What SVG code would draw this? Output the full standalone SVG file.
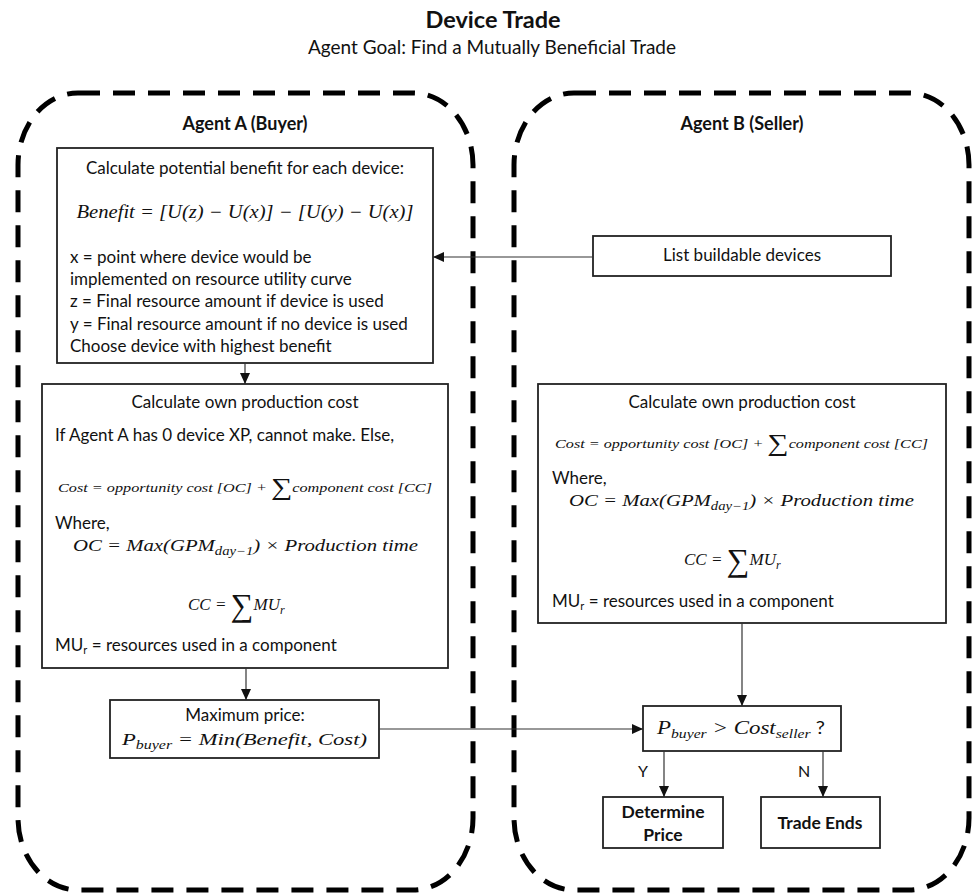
<svg xmlns="http://www.w3.org/2000/svg" width="972" height="896" viewBox="0 0 972 896">
<style>
.cont{fill:none;stroke:#000;stroke-width:5;stroke-dasharray:22 13}
.box{fill:#fff;stroke:#222;stroke-width:1.8}
.t{font-family:Lato,"Liberation Sans",sans-serif;font-size:17px;fill:#111}
.b{font-weight:bold}
.c{text-anchor:middle}
.m{font-family:"Liberation Serif","DejaVu Serif",serif;font-style:italic;fill:#111}
.conn line{stroke:#333;stroke-width:1.2;marker-end:url(#ah)}
</style>
<defs>
<marker id="ah" markerUnits="userSpaceOnUse" markerWidth="11" markerHeight="10" refX="11" refY="5" orient="auto">
<path d="M0,0 L11,5 L0,10 z" fill="#111"/>
</marker>
</defs>
<rect width="972" height="896" fill="#fff"/>
<g id="title">
<text class="t b c" x="493" y="28" style="font-size:23.5px">Device Trade</text>
<text class="t c" x="492" y="54" style="font-size:19px">Agent Goal: Find a Mutually Beneficial Trade</text>
</g>
<g id="agentA">
<rect class="cont" x="18" y="93" width="455" height="797" rx="60" ry="72"/>
<text class="t b c" x="245" y="130" style="font-size:18px">Agent A (Buyer)</text>
</g>
<g id="agentB">
<rect class="cont" x="514" y="93" width="455" height="797" rx="60" ry="72"/>
<text class="t b c" x="742" y="130" style="font-size:18px">Agent B (Seller)</text>
</g>
<g id="benefit">
<rect class="box" x="57" y="148" width="376" height="215"/>
<text class="t c" x="245" y="174">Calculate potential benefit for each device:</text>
<text class="m c" x="245" y="218" style="font-size:18px" textLength="337" lengthAdjust="spacingAndGlyphs">Benefit = [U(z) − U(x)] − [U(y) − U(x)]</text>
<text class="t" x="70" y="263">x = point where device would be</text>
<text class="t" x="70" y="285">implemented on resource utility curve</text>
<text class="t" x="70" y="307">z = Final resource amount if device is used</text>
<text class="t" x="70" y="330">y = Final resource amount if no device is used</text>
<text class="t" x="70" y="352">Choose device with highest benefit</text>
</g>
<g id="costA">
<rect class="box" x="42" y="384" width="406" height="284"/>
<text class="t c" x="245" y="408">Calculate own production cost</text>
<text class="t" x="55" y="441">If Agent A has 0 device XP, cannot make. Else,</text>
<text class="m" x="58" y="492" style="font-size:13px" textLength="374" lengthAdjust="spacingAndGlyphs">Cost = opportunity cost [OC] + <tspan style="font-size:24px;font-style:normal" dy="3">∑</tspan><tspan dy="-3">component cost [CC]</tspan></text>
<text class="t" x="55" y="529">Where,</text>
<text class="m" x="73" y="551" style="font-size:17px" textLength="345" lengthAdjust="spacingAndGlyphs">OC = Max(GPM<tspan style="font-size:12px" dy="4">day−1</tspan><tspan dy="-4">) × Production time</tspan></text>
<text class="m" x="188" y="610" style="font-size:17px">CC = <tspan style="font-size:32px;font-style:normal" dy="6">∑</tspan><tspan dy="-6">MU</tspan><tspan style="font-size:12px" dy="4">r</tspan></text>
<text class="t" x="55" y="651">MU<tspan style="font-size:11px" dy="3">r</tspan><tspan dy="-3"> = resources used in a component</tspan></text>
</g>
<g id="maxprice">
<rect class="box" x="110" y="700" width="269" height="58"/>
<text class="t c" x="245" y="721">Maximum price:</text>
<text class="m" x="122" y="745" style="font-size:17px" textLength="245" lengthAdjust="spacingAndGlyphs">P<tspan style="font-size:12px" dy="4">buyer</tspan><tspan dy="-4"> = Min(Benefit, Cost)</tspan></text>
</g>
<g id="list">
<rect class="box" x="593" y="236" width="298" height="40"/>
<text class="t c" x="742" y="261">List buildable devices</text>
</g>
<g id="costB">
<rect class="box" x="538" y="384" width="408" height="239"/>
<text class="t c" x="742" y="408">Calculate own production cost</text>
<text class="m" x="555" y="448" style="font-size:13px" textLength="373" lengthAdjust="spacingAndGlyphs">Cost = opportunity cost [OC] + <tspan style="font-size:24px;font-style:normal" dy="3">∑</tspan><tspan dy="-3">component cost [CC]</tspan></text>
<text class="t" x="552" y="484">Where,</text>
<text class="m" x="569" y="506" style="font-size:17px" textLength="345" lengthAdjust="spacingAndGlyphs">OC = Max(GPM<tspan style="font-size:12px" dy="4">day−1</tspan><tspan dy="-4">) × Production time</tspan></text>
<text class="m" x="684" y="565" style="font-size:17px">CC = <tspan style="font-size:32px;font-style:normal" dy="6">∑</tspan><tspan dy="-6">MU</tspan><tspan style="font-size:12px" dy="4">r</tspan></text>
<text class="t" x="552" y="607">MU<tspan style="font-size:11px" dy="3">r</tspan><tspan dy="-3"> = resources used in a component</tspan></text>
</g>
<g id="condition">
<rect class="box" x="643" y="706" width="198" height="45"/>
<text class="m" x="657" y="734" style="font-size:19px" textLength="168" lengthAdjust="spacingAndGlyphs">P<tspan style="font-size:13px" dy="4">buyer</tspan><tspan dy="-4"> &gt; Cost</tspan><tspan style="font-size:13px" dy="4">seller</tspan><tspan dy="-4" style="font-style:normal;font-family:Lato,'Liberation Sans',sans-serif;font-size:17px"> ?</tspan></text>
</g>
<g id="determine">
<rect class="box" x="603" y="797" width="120" height="51"/>
<text class="t b c" x="663" y="818" style="font-size:17.5px">Determine</text>
<text class="t b c" x="663" y="841" style="font-size:17.5px">Price</text>
</g>
<g id="tradeends">
<rect class="box" x="761" y="797" width="119" height="51"/>
<text class="t b c" x="820" y="829" style="font-size:17.5px">Trade Ends</text>
</g>
<g id="connectors" class="conn">
<line x1="593" y1="257" x2="433" y2="257"/>
<line x1="245" y1="363" x2="245" y2="384"/>
<line x1="246" y1="668" x2="246" y2="700"/>
<line x1="742" y1="623" x2="742" y2="706"/>
<line x1="379" y1="729" x2="643" y2="729"/>
<line x1="664" y1="751" x2="664" y2="797"/>
<line x1="823" y1="751" x2="823" y2="797"/>
</g>
<g id="labels">
<text class="t" x="638" y="777" style="font-size:16px">Y</text>
<text class="t" x="798" y="777" style="font-size:16px">N</text>
</g>
</svg>
